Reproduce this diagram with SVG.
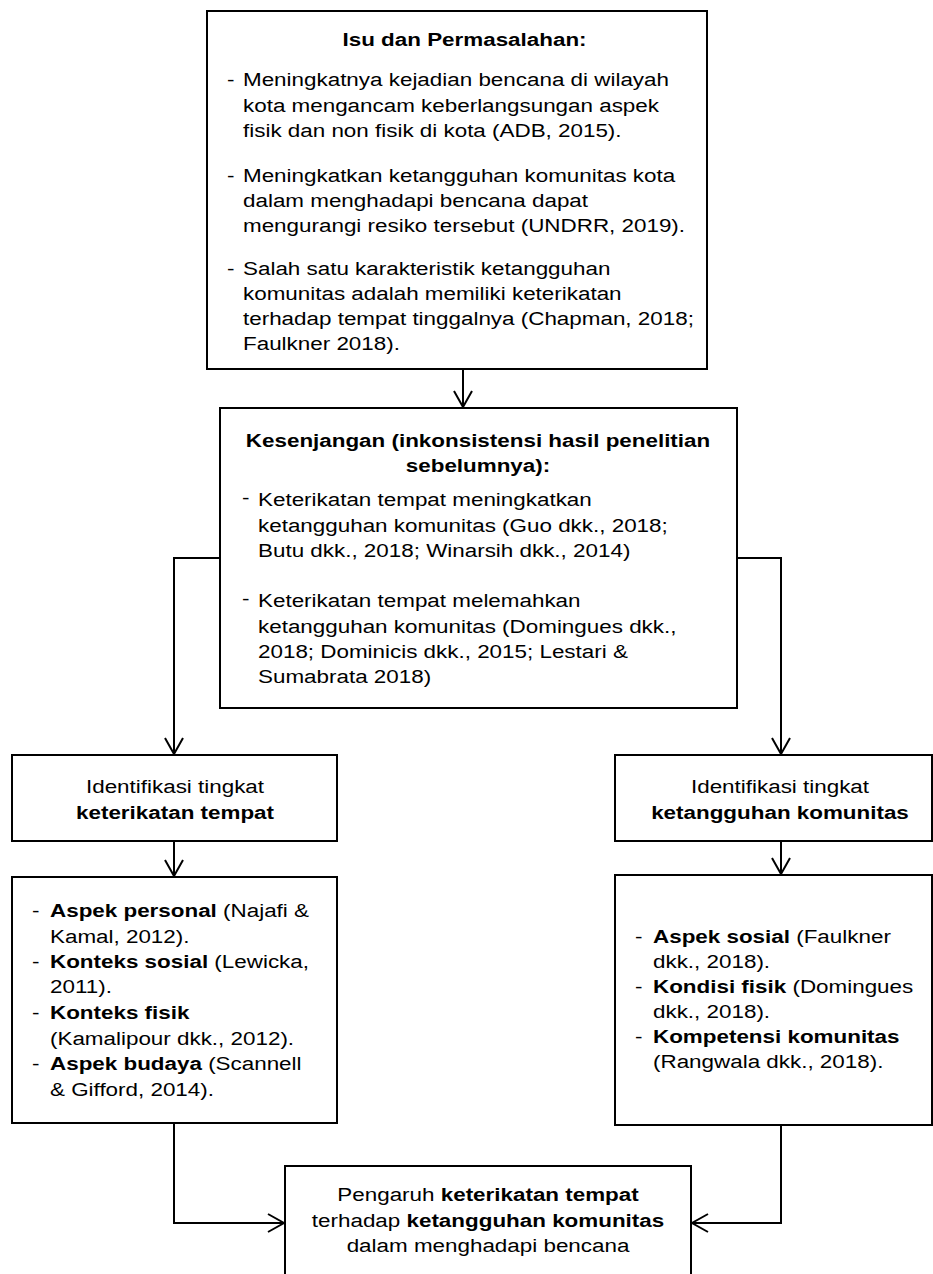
<svg xmlns="http://www.w3.org/2000/svg" width="933" height="1274" viewBox="0 0 933 1274">
<style>
  text { font-family: "Liberation Sans", Arial, Helvetica, sans-serif; font-size: 19px; fill: #000; }
  .b { font-weight: bold; }
  .box { fill: #fff; stroke: #000; stroke-width: 2; }
  .conn { fill: none; stroke: #000; stroke-width: 2; }
</style>
<defs>
  <marker id="arr" markerUnits="userSpaceOnUse" viewBox="-18 -11 20 22" markerWidth="20" markerHeight="22" refX="0" refY="0" orient="auto">
    <path d="M-16,-9 L0,0 L-16,9" fill="none" stroke="#000" stroke-width="2"/>
  </marker>
</defs>
<rect width="933" height="1274" fill="#fff"/>

<g id="connectors">
  <path class="conn" d="M463,369 V407" marker-end="url(#arr)"/>
  <path class="conn" d="M220,558 H174 V754" marker-end="url(#arr)"/>
  <path class="conn" d="M737,558 H781 V754" marker-end="url(#arr)"/>
  <path class="conn" d="M174,841 V876" marker-end="url(#arr)"/>
  <path class="conn" d="M781,841 V874" marker-end="url(#arr)"/>
  <path class="conn" d="M174,1123 V1223 H284" marker-end="url(#arr)"/>
  <path class="conn" d="M781,1125 V1223 H692" marker-end="url(#arr)"/>
</g>

<g id="isu">
  <rect class="box" x="207" y="11" width="500" height="358"/>
  <text class="b" text-anchor="middle" transform="translate(464.5,0) scale(1.18,1)" y="46">Isu dan Permasalahan:</text>
  <g transform="translate(227,0) scale(1.18,1)">
    <text x="0" y="86">-</text>
    <text x="0" y="182">-</text>
    <text x="0" y="275">-</text>
  </g>
  <g transform="translate(243,0) scale(1.18,1)">
    <text x="0" y="86">Meningkatnya kejadian bencana di wilayah</text>
    <text x="0" y="112">kota mengancam keberlangsungan aspek</text>
    <text x="0" y="137">fisik dan non fisik di kota (ADB, 2015).</text>
    <text x="0" y="182">Meningkatkan ketangguhan komunitas kota</text>
    <text x="0" y="207">dalam menghadapi bencana dapat</text>
    <text x="0" y="232">mengurangi resiko tersebut (UNDRR, 2019).</text>
    <text x="0" y="275">Salah satu karakteristik ketangguhan</text>
    <text x="0" y="300">komunitas adalah memiliki keterikatan</text>
    <text x="0" y="325">terhadap tempat tinggalnya (Chapman, 2018;</text>
    <text x="0" y="350">Faulkner 2018).</text>
  </g>
</g>

<g id="kesenjangan">
  <rect class="box" x="220" y="408" width="517" height="300"/>
  <g transform="translate(478,0) scale(1.18,1)">
    <text class="b" text-anchor="middle" x="0" y="447">Kesenjangan (inkonsistensi hasil penelitian</text>
    <text class="b" text-anchor="middle" x="0" y="472">sebelumnya):</text>
  </g>
  <g transform="translate(242,0) scale(1.18,1)">
    <text x="0" y="504">-</text>
    <text x="0" y="605">-</text>
  </g>
  <g transform="translate(258,0) scale(1.18,1)">
    <text x="0" y="506">Keterikatan tempat meningkatkan</text>
    <text x="0" y="532">ketangguhan komunitas (Guo dkk., 2018;</text>
    <text x="0" y="557">Butu dkk., 2018; Winarsih dkk., 2014)</text>
    <text x="0" y="607">Keterikatan tempat melemahkan</text>
    <text x="0" y="633">ketangguhan komunitas (Domingues dkk.,</text>
    <text x="0" y="658">2018; Dominicis dkk., 2015; Lestari &amp;</text>
    <text x="0" y="683">Sumabrata 2018)</text>
  </g>
</g>

<g id="identifikasi-keterikatan">
  <rect class="box" x="12" y="755" width="325" height="86"/>
  <g transform="translate(175,0) scale(1.18,1)">
    <text text-anchor="middle" x="0" y="793">Identifikasi tingkat</text>
    <text class="b" text-anchor="middle" x="0" y="819">keterikatan tempat</text>
  </g>
</g>

<g id="identifikasi-ketangguhan">
  <rect class="box" x="615" y="755" width="317" height="86"/>
  <g transform="translate(780,0) scale(1.18,1)">
    <text text-anchor="middle" x="0" y="793">Identifikasi tingkat</text>
    <text class="b" text-anchor="middle" x="0" y="819">ketangguhan komunitas</text>
  </g>
</g>

<g id="aspek-keterikatan">
  <rect class="box" x="12" y="877" width="325" height="246"/>
  <g transform="translate(32,0) scale(1.18,1)">
    <text x="0" y="917">-</text>
    <text x="0" y="968">-</text>
    <text x="0" y="1019">-</text>
    <text x="0" y="1070">-</text>
  </g>
  <g transform="translate(50,0) scale(1.18,1)">
    <text x="0" y="917"><tspan class="b">Aspek personal</tspan> (Najafi &amp;</text>
    <text x="0" y="943">Kamal, 2012).</text>
    <text x="0" y="968"><tspan class="b">Konteks sosial</tspan> (Lewicka,</text>
    <text x="0" y="993">2011).</text>
    <text x="0" y="1019"><tspan class="b">Konteks fisik</tspan></text>
    <text x="0" y="1045">(Kamalipour dkk., 2012).</text>
    <text x="0" y="1070"><tspan class="b">Aspek budaya</tspan> (Scannell</text>
    <text x="0" y="1096">&amp; Gifford, 2014).</text>
  </g>
</g>

<g id="aspek-ketangguhan">
  <rect class="box" x="615" y="875" width="317" height="250"/>
  <g transform="translate(635,0) scale(1.18,1)">
    <text x="0" y="943">-</text>
    <text x="0" y="993">-</text>
    <text x="0" y="1043">-</text>
  </g>
  <g transform="translate(653,0) scale(1.18,1)">
    <text x="0" y="943"><tspan class="b">Aspek sosial</tspan> (Faulkner</text>
    <text x="0" y="968">dkk., 2018).</text>
    <text x="0" y="993"><tspan class="b">Kondisi fisik</tspan> (Domingues</text>
    <text x="0" y="1018">dkk., 2018).</text>
    <text x="0" y="1043"><tspan class="b">Kompetensi komunitas</tspan></text>
    <text x="0" y="1068">(Rangwala dkk., 2018).</text>
  </g>
</g>

<g id="pengaruh">
  <rect class="box" x="285" y="1166" width="406" height="130"/>
  <g transform="translate(488,0) scale(1.18,1)">
    <text text-anchor="middle" x="0" y="1201">Pengaruh <tspan class="b">keterikatan tempat</tspan></text>
    <text text-anchor="middle" x="0" y="1227">terhadap <tspan class="b">ketangguhan komunitas</tspan></text>
    <text text-anchor="middle" x="0" y="1252">dalam menghadapi bencana</text>
  </g>
</g>
</svg>
